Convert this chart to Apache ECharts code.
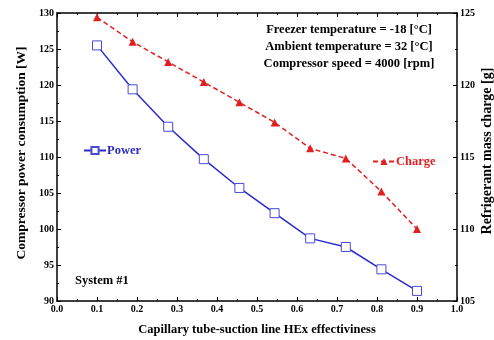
<!DOCTYPE html>
<html><head><meta charset="utf-8">
<script src="https://cdn.jsdelivr.net/npm/echarts@6/dist/echarts.min.js"></script>
<style>html,body{margin:0;padding:0;background:#fff}#c{width:494px;height:340px}</style>
</head><body><div id="c"></div>
<script>
const effectiveness = [0.1, 0.189, 0.278, 0.367, 0.456, 0.544, 0.633, 0.722, 0.811, 0.9];
const powerW = [125.5, 119.4, 114.2, 109.7, 105.7, 102.2, 98.7, 97.5, 94.4, 91.4];
const chargeG = [124.7, 123.0, 121.6, 120.2, 118.8, 117.4, 115.6, 114.9, 112.6, 110.0];
const notes = ['Freezer temperature = -18 [°C]', 'Ambient temperature = 32 [°C]', 'Compressor speed = 4000 [rpm]'];
const FONT = '"Liberation Serif", "Times New Roman", serif';
const chart = echarts.init(document.getElementById('c'));
const lbl = {color:'#000', fontFamily:FONT, fontWeight:'bold', fontSize:10};
const axisLine = {show:true, onZero:false, lineStyle:{color:'#000', width:1.5}};
const tick = {show:true, inside:true, length:4, lineStyle:{color:'#000'}};
const minor = {show:true, splitNumber:2, length:2, lineStyle:{color:'#000'}};
chart.setOption({
  animation:false,
  grid:{left:57, right:37, top:13, bottom:39, outerBoundsMode:'none', containLabel:false},
  legend:[
    {data:['Power'], left:78, top:139, itemWidth:22, itemHeight:9,
     textStyle:{color:'#2b2bbf', fontFamily:FONT, fontWeight:'bold', fontSize:12.5, padding:[0,0,0,-4]}},
    {data:['Charge'], left:367, top:150, itemWidth:22, itemHeight:9,
     textStyle:{color:'#e02020', fontFamily:FONT, fontWeight:'bold', fontSize:12.5, padding:[0,0,0,-4]}}
  ],
  xAxis:[
    {type:'value', min:0, max:1, interval:0.1, position:'bottom',
     name:'Capillary tube-suction line HEx effectiviness', nameLocation:'middle', nameGap:22, nameMoveOverlap:false,
     nameTextStyle:{color:'#000', fontFamily:FONT, fontWeight:'bold', fontSize:12.5},
     axisLine:axisLine, axisTick:tick, minorTick:minor, splitLine:{show:false},
     axisLabel:Object.assign({margin:3, formatter:v=>v.toFixed(1)}, lbl)},
    {type:'value', min:0, max:1, interval:0.1, position:'top',
     axisLine:axisLine, axisTick:tick, minorTick:minor, splitLine:{show:false}, axisLabel:{show:false}}
  ],
  yAxis:[
    {type:'value', min:90, max:130, interval:5, position:'left',
     name:'Compressor power consumption [W]', nameLocation:'middle', nameGap:28, nameMoveOverlap:false,
     nameTextStyle:{color:'#000', fontFamily:FONT, fontWeight:'bold', fontSize:13.5, padding:[0,0,0,8]},
     axisLine:axisLine, axisTick:tick, minorTick:minor, splitLine:{show:false},
     axisLabel:Object.assign({margin:3}, lbl)},
    {type:'value', min:105, max:125, interval:5, position:'right',
     name:'Refrigerant mass charge [g]', nameLocation:'middle', nameGap:23, nameRotate:90, nameMoveOverlap:false,
     nameTextStyle:{color:'#000', fontFamily:FONT, fontWeight:'bold', fontSize:14, padding:[0,0,0,12]},
     axisLine:axisLine, axisTick:tick, minorTick:minor, splitLine:{show:false},
     axisLabel:Object.assign({margin:3}, lbl)}
  ],
  series:[
    {name:'Power', type:'line', yAxisIndex:0, data:effectiveness.map((x,i)=>[x,powerW[i]]),
     symbol:'rect', symbolSize:9, showAllSymbol:true,
     lineStyle:{color:'#2b2bcc', width:1.5}, itemStyle:{color:'#fff', borderColor:'#4a4ad8', borderWidth:1}},
    {name:'Charge', type:'line', yAxisIndex:1, data:effectiveness.map((x,i)=>[x,chargeG[i]]),
     symbol:'triangle', symbolSize:8, showAllSymbol:true,
     lineStyle:{color:'#e02020', width:1.5, type:[5,3]}, itemStyle:{color:'#e02020'}}
  ],
  graphic:[
    ...notes.map((t,i)=>({type:'text', x:349, y:30+i*17,
      style:{text:t, fill:'#000', font:'bold 12.5px '+FONT, textAlign:'center', textVerticalAlign:'middle'}})),
    {type:'text', x:75, y:281, style:{text:'System #1', fill:'#000', font:'bold 12.5px '+FONT, textVerticalAlign:'middle'}}
  ]
});
</script></body></html>
